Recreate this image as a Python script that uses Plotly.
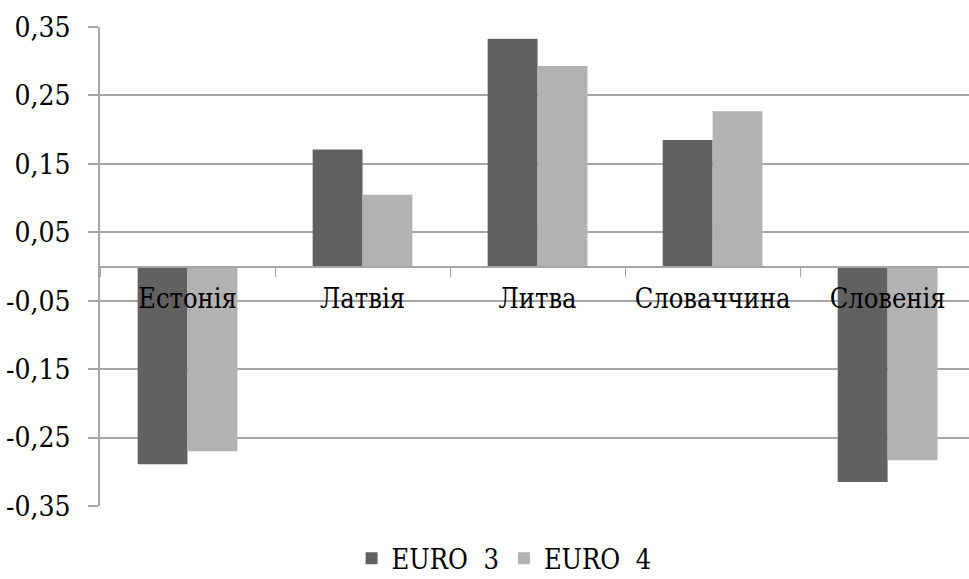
import plotly.graph_objects as go

# Countries and index values for the two emission standards
countries = ["Естонія", "Латвія", "Литва", "Словаччина", "Словенія"]
euro3 = [-0.289, 0.171, 0.333, 0.185, -0.315]
euro4 = [-0.270, 0.105, 0.293, 0.227, -0.283]
y_ticks = [-0.35, -0.25, -0.15, -0.05, 0.05, 0.15, 0.25, 0.35]
y_tick_text = ["-0,35", "-0,25", "-0,15", "-0,05", "0,05", "0,15", "0,25", "0,35"]

serif = "DejaVu Serif Condensed, DejaVu Serif"
grid_col = "#a6a6a6"

fig = go.Figure()
fig.add_trace(go.Bar(name="EURO\u00a0\u00a03", x=countries, y=euro3,
                     marker=dict(color="#616161", line=dict(width=0))))
fig.add_trace(go.Bar(name="EURO\u00a0\u00a04", x=countries, y=euro4,
                     marker=dict(color="#b2b2b2", line=dict(width=0))))

fig.update_layout(
    width=969, height=579,
    margin=dict(l=100, r=0, t=27, b=73, autoexpand=False),
    paper_bgcolor="white", plot_bgcolor="white",
    barmode="group", bargap=0.43, bargroupgap=0,
    font=dict(family=serif, color="black", size=26),
    showlegend=True,
    legend=dict(orientation="h", x=0.465, xanchor="center",
                yref="container", y=0.035, yanchor="middle",
                font=dict(family=serif, size=27), itemwidth=30, traceorder="normal"),
)

fig.update_xaxes(
    type="category", range=[-0.5, 4.465],
    anchor="free", position=0.5,
    showline=True, linecolor=grid_col, linewidth=1.5,
    ticks="outside", tickson="boundaries", ticklen=10, tickcolor=grid_col, tickwidth=1,
    showgrid=False, ticklabelstandoff=8, tickangle=0,
    tickfont=dict(family=serif, size=27),
)

fig.update_yaxes(
    range=[-0.35, 0.35], tickvals=y_ticks, ticktext=y_tick_text,
    showgrid=True, gridcolor=grid_col, gridwidth=1.5,
    zeroline=False,
    showline=True, linecolor=grid_col, linewidth=1.5,
    ticks="outside", ticklen=10, tickcolor=grid_col, tickwidth=1.5,
    ticklabelstandoff=12,
    tickfont=dict(family=serif, size=28),
)

fig.write_html("out.html")
